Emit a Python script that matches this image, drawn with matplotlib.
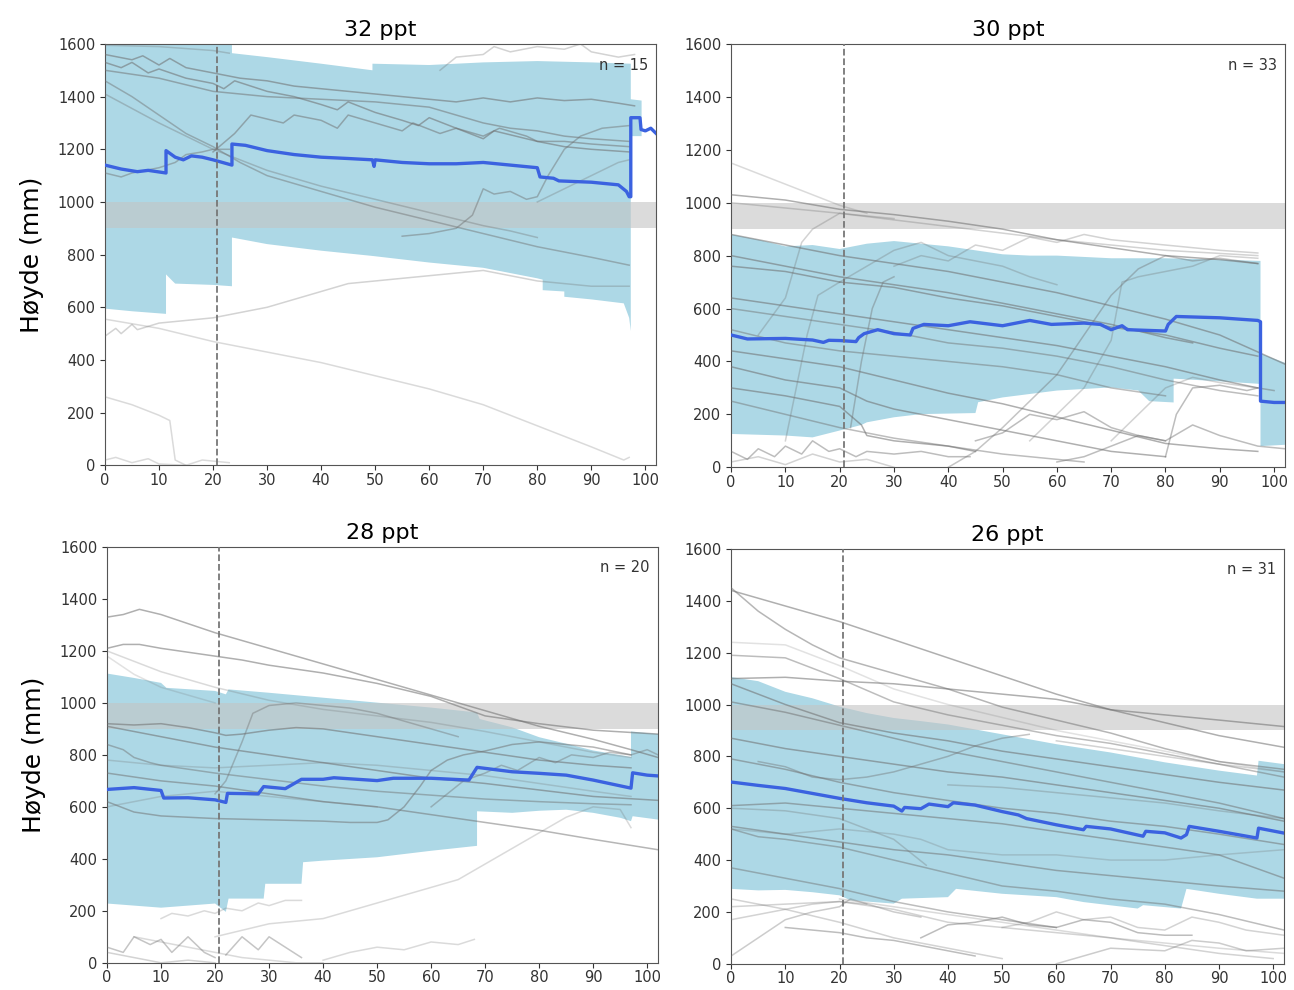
import numpy as np
import matplotlib
matplotlib.use("Agg")
import matplotlib.pyplot as plt

plt.rcParams['font.family'] = ['DejaVu Sans']

# ---------------- DATA ----------------
titles = ["32 ppt", "30 ppt", "28 ppt", "26 ppt"]
n_labels = ["n = 15", "n = 33", "n = 20", "n = 31"]
threshold_band = (900, 1000)
marker_x = 20.7
x_ticks = list(range(0, 101, 10))
y_ticks = list(range(0, 1601, 200))

# ---- 32 ppt ----
tl_up_x = [0, 23.5, 23.5, 30, 40, 49.5, 49.5, 60, 70, 80, 90, 97.3, 97.3, 99.3]
tl_up_y = [1600, 1600, 1565, 1550, 1525, 1500, 1525, 1520, 1530, 1535, 1530, 1525, 1390, 1385]
tl_lo_x = [0, 5, 11.3, 11.3, 12.5, 13, 20, 23.5, 23.5, 30, 40, 49.5, 60, 70, 80, 81, 81, 85, 85, 90, 96, 97, 97.3, 97.3, 99.3]
tl_lo_y = [595, 585, 575, 725, 700, 690, 685, 680, 865, 840, 815, 795, 770, 750, 710, 705, 665, 660, 640, 630, 615, 560, 510, 1250, 1250]
tl_med_x = [0, 3, 6, 8, 11.3, 11.3, 13, 14.5, 16, 18, 20, 23.5, 23.5, 26, 30, 35, 40, 45, 49.5, 49.8, 50, 55, 60, 65, 70, 75, 80, 80.5, 83, 84, 90, 95, 96.5, 97, 97.3, 97.3, 99, 99.2, 100, 101, 102]
tl_med_y = [1140, 1125, 1115, 1120, 1110, 1195, 1170, 1160, 1175, 1170, 1160, 1140, 1220, 1215, 1195, 1180, 1170, 1165, 1160, 1135, 1160, 1150, 1145, 1145, 1150, 1140, 1130, 1095, 1090, 1080, 1075, 1065, 1040, 1020, 1020, 1320, 1320, 1275, 1270, 1280, 1260]
tl_lines = [
    ([0, 10, 20, 23], [1595, 1590, 1575, 1565], 0.3),
    ([0, 5, 7, 10, 12, 15, 20, 25, 30, 35, 40, 45, 50, 55, 60, 65, 70, 75, 80, 85, 90, 95, 98],
     [1560, 1540, 1555, 1520, 1545, 1510, 1490, 1470, 1460, 1440, 1430, 1420, 1410, 1400, 1390, 1380, 1395, 1380, 1395, 1385, 1390, 1375, 1365], 0.55),
    ([0, 3, 5, 8, 10, 15, 20, 22, 24, 30, 35, 40, 43, 45, 50, 55, 58, 60, 65, 70, 72, 80, 85, 90, 97],
     [1530, 1510, 1530, 1490, 1505, 1470, 1450, 1430, 1460, 1420, 1400, 1370, 1350, 1380, 1340, 1310, 1290, 1320, 1280, 1240, 1270, 1230, 1210, 1200, 1190], 0.55),
    ([0, 10, 20, 30, 40, 50, 60, 65, 70, 75, 80, 85, 90, 97],
     [1500, 1470, 1420, 1400, 1390, 1380, 1360, 1330, 1300, 1280, 1270, 1250, 1240, 1230], 0.5),
    ([20, 24, 27, 33, 35, 40, 43, 45, 50, 55, 57, 62, 65, 70, 73, 78, 80, 85, 90, 97],
     [1190, 1260, 1330, 1300, 1330, 1310, 1280, 1330, 1300, 1270, 1300, 1260, 1280, 1250, 1280, 1250, 1230, 1230, 1220, 1210], 0.5),
    ([0, 5, 10, 15, 20, 25, 30, 40, 50, 60, 70, 80, 90, 97],
     [1460, 1400, 1330, 1260, 1210, 1150, 1100, 1040, 980, 930, 880, 830, 790, 760], 0.45),
    ([0, 10, 20, 30, 40, 50, 60, 70, 75, 80],
     [1410, 1300, 1200, 1120, 1060, 1010, 960, 910, 890, 865], 0.35),
    ([0, 3, 5, 10, 13, 15, 18, 20, 23],
     [1110, 1095, 1110, 1130, 1150, 1180, 1190, 1200, 1200], 0.45),
    ([0, 2, 3, 5, 6, 10, 15, 20, 25, 30, 35, 40, 45, 50, 55, 60, 65, 70, 75, 80, 85, 90, 97],
     [490, 520, 500, 535, 515, 540, 550, 560, 580, 600, 630, 660, 690, 700, 710, 720, 730, 740, 720, 700, 690, 680, 680], 0.3),
    ([0, 10, 20, 30, 40, 50, 60, 70, 80, 90, 96, 97],
     [555, 520, 470, 430, 390, 340, 290, 230, 150, 70, 20, 30], 0.25),
    ([0, 5, 10, 12, 13, 15], [260, 230, 190, 170, 20, 0], 0.25),
    ([0, 2, 5, 8, 10, 15, 18, 23], [20, 30, 10, 25, 5, 0, 20, 10], 0.25),
    ([55, 60, 65, 68, 70, 72, 75, 78, 80, 82, 85, 88, 92, 97],
     [870, 880, 900, 950, 1050, 1030, 1040, 1010, 1020, 1100, 1200, 1250, 1280, 1290], 0.45),
    ([80, 85, 90, 95, 97], [1000, 1050, 1100, 1150, 1160], 0.3),
    ([62, 65, 70, 72, 75, 80, 85, 88, 90, 95, 98],
     [1500, 1550, 1560, 1590, 1570, 1590, 1580, 1600, 1570, 1550, 1560], 0.3),
]

# ---- 30 ppt ----
tr_up_x = [0, 5, 10, 15, 20, 25, 30, 35, 40, 45, 50, 55, 60, 70, 80, 90, 97.5, 97.5, 102]
tr_up_y = [880, 860, 835, 840, 825, 845, 855, 845, 835, 820, 805, 800, 800, 790, 790, 785, 780, 430, 395]
tr_lo_x = [0, 10, 15, 20, 24, 25, 30, 35, 45, 45.5, 50, 60, 70, 75, 77, 81.5, 81.5, 90, 97.5, 97.5, 102]
tr_lo_y = [126, 120, 113, 139, 160, 170, 189, 201, 205, 246, 264, 290, 302, 290, 250, 245, 335, 325, 315, 80, 85]
tr_med_x = [0, 3, 10, 15, 17, 18, 20, 23, 23.5, 24.5, 27, 30, 33, 33.5, 35.5, 40, 44, 50, 55, 59, 65, 68, 70, 72, 73, 80, 80.5, 82, 90, 97, 97.5, 97.5, 100, 102]
tr_med_y = [500, 485, 487, 481, 472, 480, 479, 475, 490, 505, 520, 505, 500, 525, 540, 535, 550, 535, 555, 540, 545, 540, 520, 535, 520, 515, 540, 570, 565, 555, 550, 250, 245, 245]
tr_lines = [
    ([0, 5, 10, 15, 20, 25], [1150, 1110, 1070, 1030, 990, 960], 0.25),
    ([0, 10, 20, 30, 40, 50, 60, 70, 80, 90, 97], [1030, 1010, 975, 955, 930, 900, 860, 830, 800, 785, 770], 0.55),
    ([0, 20, 40, 60, 80, 97], [1000, 960, 910, 860, 820, 800], 0.3),
    ([5, 10, 13, 15, 20, 25, 30], [500, 640, 850, 900, 960, 950, 940], 0.3),
    ([0, 10, 20, 30, 40, 50, 60, 70, 80, 90, 102], [880, 840, 800, 770, 740, 700, 660, 610, 560, 500, 390], 0.55),
    ([0, 10, 20, 30, 40, 50, 60, 70, 80, 85], [800, 760, 720, 690, 660, 620, 580, 540, 490, 470], 0.55),
    ([0, 10, 20, 30, 40, 50, 60, 70, 80, 90, 97], [760, 740, 700, 680, 640, 610, 570, 530, 500, 450, 420], 0.55),
    ([0, 10, 20, 30, 40, 50, 60, 70, 80, 90, 97], [640, 610, 580, 550, 520, 490, 460, 420, 380, 330, 300], 0.55),
    ([0, 10, 20, 30, 40, 50, 60, 70, 80, 90, 97], [600, 570, 540, 510, 470, 450, 420, 380, 330, 290, 270], 0.45),
    ([0, 10, 20, 30, 40, 50, 60, 70, 80], [520, 470, 440, 420, 400, 380, 350, 300, 270], 0.45),
    ([0, 10, 20, 30, 40, 50, 60, 70, 80, 90, 97], [440, 410, 380, 330, 280, 240, 190, 140, 90, 70, 60], 0.55),
    ([0, 10, 20, 25, 30, 40, 50, 60, 70, 80], [380, 330, 300, 250, 220, 180, 140, 100, 60, 40], 0.55),
    ([0, 10, 20, 24, 25, 30, 40, 45], [300, 270, 230, 160, 120, 100, 80, 60], 0.55),
    ([0, 10, 20, 30, 40, 50, 60, 65], [250, 200, 150, 110, 80, 50, 30, 20], 0.45),
    ([0, 3, 5, 8, 10, 13, 15, 18, 20, 23, 25, 30, 35, 40, 44], [60, 30, 70, 40, 80, 50, 100, 60, 70, 40, 60, 50, 60, 40, 40], 0.45),
    ([0, 5, 10, 15, 20, 25, 30], [20, 40, 10, 50, 20, 30, 0], 0.3),
    ([40, 45, 50, 55, 60, 65, 70, 75, 80, 85, 90, 97], [0, 60, 150, 250, 350, 500, 650, 750, 800, 780, 790, 770], 0.4),
    ([55, 60, 65, 70, 72, 75, 80, 85, 90, 97], [100, 200, 300, 480, 700, 720, 740, 760, 800, 790], 0.3),
    ([30, 35, 40, 45, 50, 55, 60, 65, 70, 75, 80, 85, 90, 97], [760, 800, 780, 840, 820, 870, 850, 880, 860, 850, 840, 830, 820, 810], 0.3),
    ([20, 25, 30, 35, 40, 45, 50, 55, 60], [700, 760, 820, 850, 800, 780, 760, 720, 690], 0.3),
    ([80, 82, 85, 90, 95, 97, 100], [40, 200, 300, 310, 290, 300, 290], 0.45),
    ([70, 75, 80, 85, 90, 97], [100, 200, 300, 340, 320, 300], 0.3),
    ([60, 65, 70, 75, 80, 85, 90, 97, 102], [20, 40, 80, 120, 100, 160, 120, 80, 70], 0.45),
    ([45, 50, 55, 60, 65, 70, 75, 80], [100, 130, 200, 180, 210, 150, 120, 100], 0.45),
    ([10, 12, 14, 16, 20], [100, 300, 500, 650, 700], 0.3),
    ([22, 24, 26, 28, 30], [150, 400, 600, 700, 720], 0.4),
]

# ---- 28 ppt ----
bl_up_x = [0, 5, 10, 11, 20, 22, 22.5, 30, 40, 50, 60, 68.5, 69, 75, 80, 85, 90, 97, 97, 102]
bl_up_y = [1113, 1096, 1077, 1058, 1046, 1033, 1052, 1039, 1020, 1001, 982, 963, 938, 906, 868, 843, 817, 792, 890, 880]
bl_lo_x = [0, 10, 20, 22, 22.5, 29, 29.3, 36, 36.3, 40, 50, 60, 68.5, 68.5, 75, 80, 85, 90, 95, 97, 97.3, 102]
bl_lo_y = [228, 212, 228, 196, 247, 247, 304, 304, 387, 393, 406, 431, 450, 583, 577, 585, 589, 577, 558, 545, 564, 551]
bl_med_x = [0, 5, 10, 10.5, 15, 20, 22, 22.3, 28, 29, 33, 36, 40, 42, 50, 53, 60, 67, 68.5, 75, 80, 85, 90, 97, 97.3, 100, 102]
bl_med_y = [667, 674, 663, 634, 635, 627, 617, 652, 650, 678, 670, 706, 706, 712, 701, 710, 710, 703, 752, 735, 729, 722, 703, 672, 731, 722, 719]
bl_lines = [
    ([0, 3, 6, 10, 20, 30, 40, 50, 60, 70, 80, 90, 97, 102], [1330, 1340, 1360, 1340, 1270, 1210, 1150, 1090, 1030, 970, 910, 860, 820, 790], 0.55),
    ([0, 3, 6, 10, 15, 20, 25, 30, 35, 40, 50, 60, 70, 80, 90, 102], [1210, 1225, 1225, 1210, 1195, 1180, 1165, 1145, 1130, 1115, 1075, 1025, 950, 920, 895, 880], 0.55),
    ([0, 10, 20, 30, 40, 50, 60, 70, 80, 90, 97], [1200, 1120, 1060, 1010, 975, 950, 925, 890, 850, 810, 790], 0.25),
    ([0, 5, 10, 15, 20], [1180, 1110, 1060, 1030, 1000], 0.2),
    ([0, 5, 10, 15, 20, 22, 25, 30, 35, 40, 45, 50, 60, 70, 80, 90, 97], [920, 915, 920, 905, 885, 875, 880, 895, 905, 900, 885, 870, 840, 810, 780, 760, 750], 0.55),
    ([0, 10, 20, 30, 40, 50, 60, 70, 80, 90, 102], [910, 870, 830, 800, 770, 740, 710, 690, 665, 640, 625], 0.55),
    ([0, 3, 5, 8, 10, 15, 20, 30, 40, 50, 60, 70, 80, 90, 97], [840, 820, 790, 770, 760, 745, 730, 705, 680, 660, 645, 630, 620, 612, 608], 0.45),
    ([0, 10, 20, 30, 40, 50, 60, 70, 80, 90, 102], [730, 700, 680, 650, 620, 600, 570, 540, 510, 475, 435], 0.5),
    ([0, 5, 10, 20, 30, 40, 45, 50, 52, 55, 58, 60, 63, 66, 70, 75, 80, 85, 90, 97],
     [620, 580, 565, 555, 550, 545, 540, 540, 550, 600, 680, 740, 780, 800, 815, 840, 850, 840, 830, 800], 0.5),
    ([20, 22, 25, 27, 30, 35, 40, 45, 50, 55, 60, 65], [650, 700, 850, 960, 990, 1000, 990, 980, 960, 930, 900, 870], 0.4),
    ([60, 63, 66, 70, 73, 76, 80, 83, 86, 90, 93, 97, 100, 102], [600, 650, 700, 730, 760, 740, 790, 770, 800, 790, 810, 800, 820, 800], 0.4),
    ([20, 30, 40, 50, 60, 65, 70, 75, 80, 85, 90, 95, 97], [100, 150, 170, 230, 290, 320, 380, 440, 500, 560, 600, 590, 520], 0.25),
    ([10, 12, 15, 18, 20, 22, 25, 28, 30, 33, 36], [170, 190, 180, 200, 190, 210, 200, 230, 220, 240, 240], 0.25),
    ([40, 45, 50, 55, 60, 65, 68], [10, 40, 60, 50, 80, 70, 90], 0.25),
    ([0, 3, 5, 8, 10, 12, 15, 18, 20], [60, 40, 100, 70, 90, 40, 100, 40, 20], 0.4),
    ([22, 25, 28, 30, 33, 36], [30, 100, 50, 100, 60, 20], 0.4),
    ([0, 5, 10, 15, 20], [40, 20, 0, 10, 0], 0.3),
    ([5, 10, 15, 20, 25, 30, 35, 40], [100, 80, 60, 40, 20, 10, 0, 0], 0.25),
    ([0, 10, 20, 30, 40, 50, 60, 70, 80, 90, 97], [780, 760, 750, 760, 770, 760, 740, 720, 690, 660, 640], 0.25),
    ([0, 5, 10, 15, 20, 30, 40, 50], [600, 620, 640, 650, 660, 640, 620, 600], 0.25),
]

# ---- 26 ppt ----
br_up_x = [0, 5, 10, 15, 20, 25, 30, 35, 40, 50, 60, 70, 80, 90, 97, 97.3, 102]
br_up_y = [1106, 1090, 1049, 1024, 992, 967, 948, 936, 923, 885, 847, 815, 777, 745, 726, 783, 770]
br_lo_x = [0, 5, 10, 15, 20, 22, 30, 31.5, 40, 41.5, 50, 60, 65, 75, 76, 83, 84, 90, 97, 102]
br_lo_y = [289, 283, 285, 276, 264, 245, 232, 251, 257, 289, 270, 257, 238, 213, 226, 213, 289, 270, 251, 251]
br_med_x = [0, 5, 10, 15, 20, 25, 30, 31.5, 32, 35, 36.5, 40, 41, 45, 50, 53, 54.5, 60, 65, 65.5, 70, 76, 76.5, 80, 83, 84, 84.5, 90, 97, 97.3, 102]
br_med_y = [701, 688, 676, 657, 638, 621, 608, 589, 603, 598, 616, 606, 621, 612, 587, 574, 560, 536, 517, 530, 520, 492, 511, 505, 485, 498, 530, 511, 485, 523, 504]
br_lines = [
    ([0, 10, 20, 30, 40, 50, 60, 65, 70, 80, 90, 102], [1440, 1380, 1320, 1250, 1180, 1110, 1040, 1010, 980, 930, 880, 835], 0.55),
    ([0, 5, 10, 15, 20, 30, 40, 50, 60, 70, 80, 90, 102], [1450, 1360, 1290, 1230, 1180, 1120, 1060, 990, 940, 890, 830, 780, 750], 0.5),
    ([0, 10, 20, 30, 40, 50, 60, 70, 80, 90, 102], [1100, 1105, 1090, 1080, 1060, 1040, 1020, 980, 960, 940, 915], 0.55),
    ([0, 10, 20, 30, 40, 50, 60, 70, 80, 90, 102], [1190, 1180, 1100, 1010, 960, 920, 880, 850, 810, 770, 720], 0.45),
    ([0, 10, 20, 30, 40, 50, 60, 70, 80, 90, 102], [1240, 1230, 1150, 1060, 1000, 950, 900, 860, 820, 780, 740], 0.2),
    ([0, 10, 20, 30, 40, 50, 60, 70, 80, 90, 102], [1080, 1000, 930, 890, 860, 820, 790, 760, 730, 700, 670], 0.55),
    ([0, 10, 20, 30, 40, 50, 60, 70, 80, 90, 102], [1010, 970, 920, 870, 820, 780, 740, 700, 660, 620, 560], 0.5),
    ([0, 10, 20, 30, 40, 50, 60, 70, 80, 90, 102], [870, 830, 800, 770, 740, 720, 690, 660, 630, 600, 550], 0.55),
    ([0, 5, 10, 20, 30, 40, 50, 60, 70, 80, 90, 102], [790, 770, 750, 700, 660, 630, 600, 580, 550, 530, 500, 460], 0.5),
    ([0, 10, 20, 30, 40, 50, 60, 70, 80, 90, 102], [610, 620, 600, 580, 560, 540, 510, 480, 450, 420, 330], 0.5),
    ([0, 10, 20, 30, 40, 50, 60, 70, 80, 90, 102], [530, 500, 470, 440, 420, 390, 360, 340, 320, 300, 280], 0.5),
    ([0, 5, 10, 20, 30, 40, 50, 60, 70, 80, 90, 102], [520, 490, 480, 450, 400, 350, 300, 280, 250, 230, 190, 130], 0.45),
    ([0, 10, 20, 30, 40, 50, 60], [370, 330, 290, 240, 200, 170, 140], 0.45),
    ([5, 10, 15, 20, 25, 30, 35, 40, 45, 50, 55], [780, 760, 720, 710, 720, 740, 770, 800, 840, 870, 885], 0.4),
    ([0, 10, 20, 30, 35, 40, 50, 60, 70, 80, 90, 102], [520, 500, 520, 500, 480, 440, 420, 420, 400, 400, 420, 440], 0.25),
    ([0, 5, 10, 15, 20, 22, 30, 35], [30, 100, 170, 200, 220, 250, 200, 180], 0.35),
    ([0, 10, 20, 30, 40, 50], [250, 210, 160, 100, 60, 20], 0.3),
    ([0, 10, 20, 30, 40, 50, 60, 70, 80, 90, 100], [220, 230, 240, 210, 160, 140, 120, 100, 70, 40, 20], 0.3),
    ([10, 15, 20, 25, 30, 35, 40, 45], [140, 130, 120, 100, 90, 70, 50, 30], 0.45),
    ([35, 40, 45, 50, 55, 60, 65, 70, 75, 80, 85], [100, 150, 160, 180, 150, 140, 170, 160, 120, 110, 110], 0.45),
    ([60, 70, 80, 85, 90, 95, 102], [0, 60, 50, 90, 80, 50, 60], 0.35),
    ([0, 5, 10, 15, 20, 25], [170, 190, 210, 230, 240, 230], 0.3),
    ([50, 55, 60, 65, 70, 75, 80, 85, 90, 95, 102], [140, 160, 200, 170, 180, 140, 130, 180, 160, 130, 110], 0.3),
    ([20, 30, 40, 50, 60, 70, 80, 90, 102], [250, 220, 190, 160, 130, 100, 80, 60, 40], 0.25),
    ([0, 10, 20, 30, 36], [600, 590, 560, 480, 380], 0.3),
    ([60, 70, 80, 90, 102], [860, 830, 800, 770, 740], 0.3),
    ([40, 50, 60, 70, 80, 90, 102], [690, 680, 660, 640, 620, 590, 560], 0.3),
]

panels = [
    (tl_up_x, tl_up_y, tl_lo_x, tl_lo_y, tl_med_x, tl_med_y, tl_lines),
    (tr_up_x, tr_up_y, tr_lo_x, tr_lo_y, tr_med_x, tr_med_y, tr_lines),
    (bl_up_x, bl_up_y, bl_lo_x, bl_lo_y, bl_med_x, bl_med_y, bl_lines),
    (br_up_x, br_up_y, br_lo_x, br_lo_y, br_med_x, br_med_y, br_lines),
]

# ---------------- PLOT ----------------
fig = plt.figure(figsize=(12.94, 9.90), dpi=100)
positions = [
    [0.0811, 0.530, 0.426, 0.4256],
    [0.565, 0.528, 0.428, 0.4276],
    [0.0827, 0.0275, 0.4258, 0.4200],
    [0.565, 0.0265, 0.4273, 0.4190],
]

for i, (pos, data) in enumerate(zip(positions, panels)):
    up_x, up_y, lo_x, lo_y, med_x, med_y, lines = data
    ax = fig.add_axes(pos)
    px = np.r_[np.array(up_x, float), np.array(lo_x, float)[::-1]]
    py = np.r_[np.array(up_y, float), np.array(lo_y, float)[::-1]]
    ax.fill(px, py, color='#add8e6', lw=0, zorder=1)
    ax.axhspan(threshold_band[0], threshold_band[1], color='#c4c4c4', alpha=0.6, lw=0, zorder=2)
    for xs, ys, a in lines:
        ax.plot(xs, ys, color='#6e6e6e', alpha=a, lw=1.1, zorder=3)
    ax.plot(med_x, med_y, color='#3b62e0', lw=2.4, zorder=4)
    ax.axvline(marker_x, color='#777777', ls='--', lw=1.3, zorder=5)
    ax.set_xlim(0, 102)
    ax.set_ylim(0, 1600)
    ax.set_xticks(x_ticks)
    ax.set_yticks(y_ticks)
    ax.tick_params(labelsize=10.5, colors='#333333', length=3.5)
    ax.tick_params(axis='x', pad=2)
    for s in ax.spines.values():
        s.set_color('#555555')
    ax.set_title(titles[i], fontsize=16, pad=6)
    ax.text(0.985, 0.95, n_labels[i], transform=ax.transAxes, ha='right', va='center',
            fontsize=10.5, color='#333333')
    if i % 2 == 0:
        ax.set_ylabel("Høyde (mm)", fontsize=18, labelpad=10)

fig.savefig("out.png", dpi=100)
